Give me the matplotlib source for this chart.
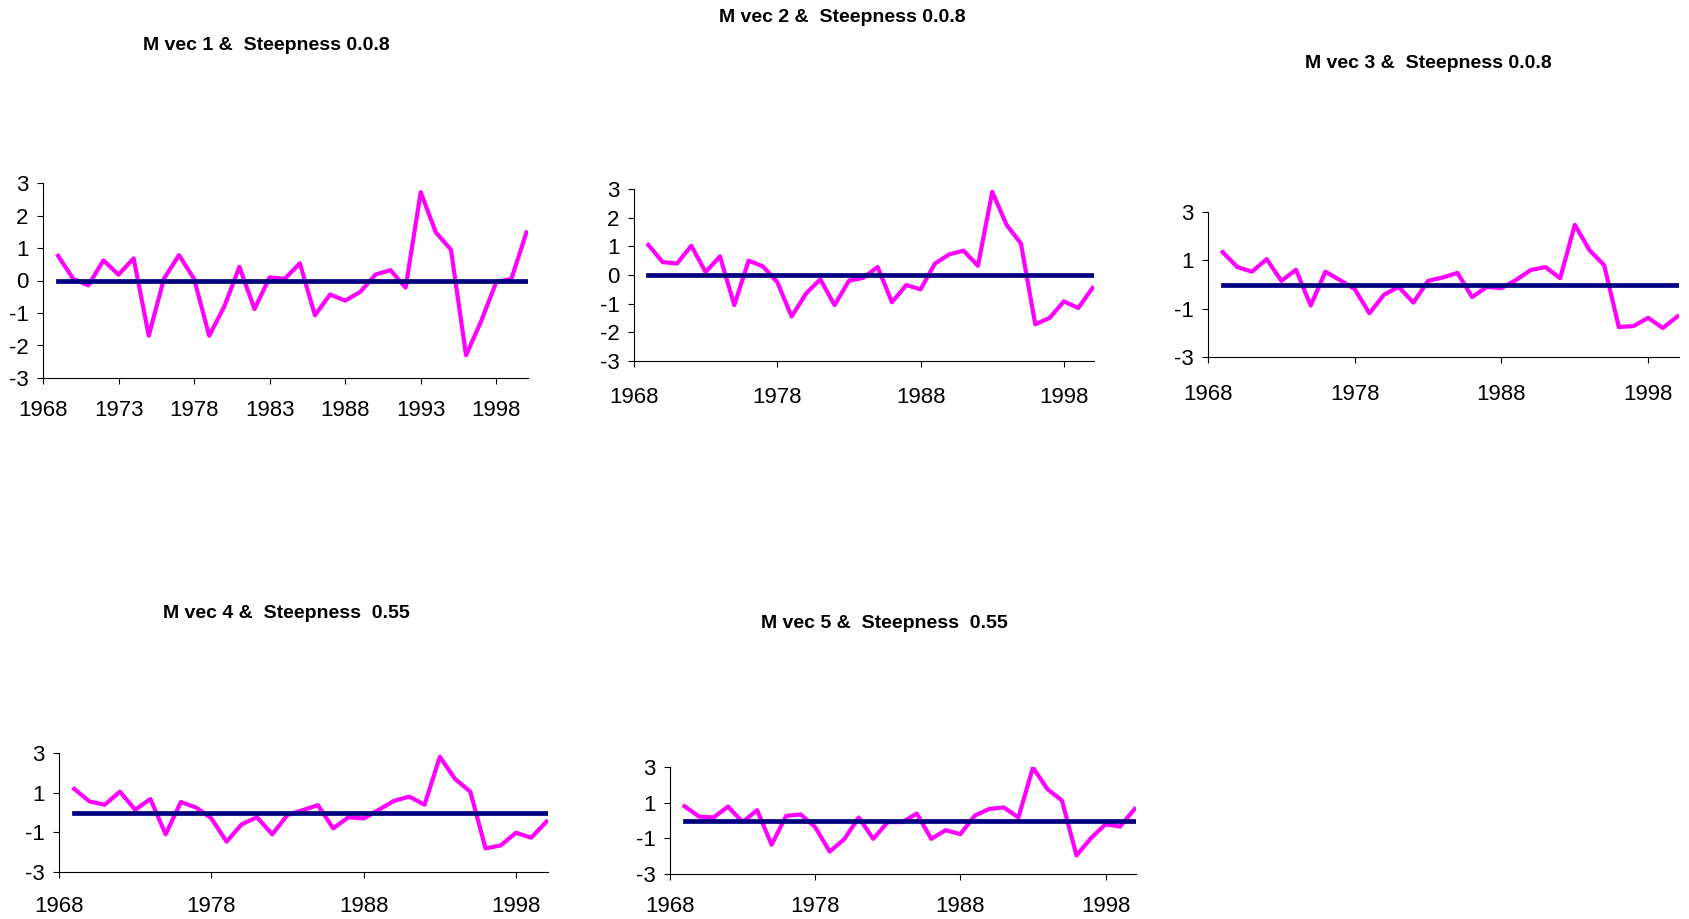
import numpy as np
import matplotlib
matplotlib.use("Agg")
import matplotlib.pyplot as plt

plt.rcParams['font.family'] = ['Liberation Sans', 'DejaVu Sans']
plt.rcParams['axes.unicode_minus'] = False

# années 1969-2000
years = list(range(1969, 2001))

titles = [
    "M vec 1 &  Steepness 0.0.8",
    "M vec 2 &  Steepness 0.0.8",
    "M vec 3 &  Steepness 0.0.8",
    "M vec 4 &  Steepness  0.55",
    "M vec 5 &  Steepness  0.55",
]

mvec1 = [0.76, 0.05, -0.15, 0.62, 0.18, 0.68, -1.70, 0.05, 0.78, 0.05,
         -1.70, -0.80, 0.42, -0.88, 0.10, 0.05, 0.53, -1.07, -0.43, -0.62,
         -0.35, 0.18, 0.32, -0.22, 2.72, 1.48, 0.95, -2.30, -1.25, -0.05,
         0.05, 1.48]
mvec2 = [1.05, 0.45, 0.40, 1.02, 0.10, 0.65, -1.05, 0.50, 0.30, -0.25,
         -1.45, -0.65, -0.15, -1.05, -0.20, -0.10, 0.28, -0.95, -0.35, -0.50,
         0.40, 0.72, 0.85, 0.32, 2.90, 1.75, 1.10, -1.72, -1.50, -0.92,
         -1.15, -0.45]
mvec3 = [1.34, 0.72, 0.53, 1.05, 0.15, 0.61, -0.87, 0.53, 0.18, -0.19,
         -1.19, -0.42, -0.10, -0.75, 0.15, 0.29, 0.48, -0.52, -0.10, -0.15,
         0.19, 0.60, 0.72, 0.26, 2.47, 1.42, 0.80, -1.76, -1.72, -1.38,
         -1.80, -1.32]
mvec4 = [1.19, 0.56, 0.39, 1.05, 0.14, 0.68, -1.10, 0.53, 0.25, -0.29,
         -1.47, -0.59, -0.24, -1.10, -0.12, 0.12, 0.37, -0.80, -0.24, -0.30,
         0.14, 0.59, 0.80, 0.39, 2.81, 1.69, 1.05, -1.81, -1.66, -1.02,
         -1.27, -0.46]
mvec5 = [0.80, 0.22, 0.17, 0.78, -0.09, 0.58, -1.36, 0.26, 0.34, -0.37,
         -1.74, -1.05, 0.17, -1.03, -0.09, -0.09, 0.39, -1.03, -0.54, -0.77,
         0.28, 0.65, 0.73, 0.17, 2.97, 1.76, 1.12, -1.96, -0.99, -0.21,
         -0.34, 0.64]
series = [mvec1, mvec2, mvec3, mvec4, mvec5]
baseline = [0.0] * len(years)

xticks_list = [
    [1968, 1973, 1978, 1983, 1988, 1993, 1998],
    [1968, 1978, 1988, 1998],
    [1968, 1978, 1988, 1998],
    [1968, 1978, 1988, 1998],
    [1968, 1978, 1988, 1998],
]
yticks_list = [
    [-3, -2, -1, 0, 1, 2, 3],
    [-3, -2, -1, 0, 1, 2, 3],
    [-3, -1, 1, 3],
    [-3, -1, 1, 3],
    [-3, -1, 1, 3],
]

W, H = 1690, 919
# positions en pixels (gauche, haut, droite, bas)
boxes = [(43, 183, 528, 378), (634, 189, 1094, 361), (1208, 212, 1679, 357),
         (59, 753, 548, 872), (670, 767, 1136, 874)]
xpads = [11.5, 14.4, 15, 12.6, 11.5]
title_pos = [(266, 46), (842, 18), (1428, 64), (286, 613), (884, 624)]

fig = plt.figure(figsize=(W / 100, H / 100), dpi=100)

for i in range(5):
    l, t, r, b = boxes[i]
    ax = fig.add_axes([l / W, 1 - b / H, (r - l) / W, (b - t) / H])
    ax.plot(years, series[i], color='#FF00FF', lw=3)
    ax.plot(years, baseline, color='#000080', lw=3.4)
    ax.set_xlim(1968, 2000.1)
    ax.set_ylim(-3, 3)
    ax.set_xticks(xticks_list[i])
    ax.set_yticks(yticks_list[i])
    ax.spines['top'].set_visible(False)
    ax.spines['right'].set_visible(False)
    ax.tick_params(axis='x', direction='out', length=4.5, pad=xpads[i], labelsize=16)
    ax.tick_params(axis='y', direction='out', length=4.5, pad=6, labelsize=16)
    fig.text(title_pos[i][0] / W, 1 - title_pos[i][1] / H, titles[i],
             ha='center', va='center', fontsize=14, fontweight='bold')

fig.savefig("out.png", dpi=100)
